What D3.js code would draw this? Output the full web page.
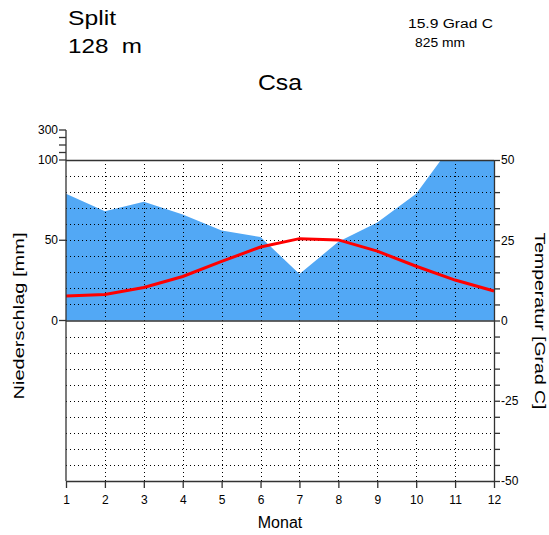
<!DOCTYPE html>
<html><head><meta charset="utf-8">
<script src="https://cdn.jsdelivr.net/npm/d3@7"></script>
<style>body{margin:0;background:#fff}svg{display:block}text{font-family:"Liberation Sans",Arial,sans-serif}</style>
</head><body>
<script>
const months = [1,2,3,4,5,6,7,8,9,10,11,12];
const precip = [79,68,74,66,56,52,29,49,61,79,112,100];
const temp = [7.6,8.1,10.3,13.7,18.4,22.9,25.5,25.1,21.6,16.9,12.6,9.2];
const tempTicks = [50,45,40,35,30,25,20,15,10,5,0,-5,-10,-15,-20,-25,-30,-35,-40,-45,-50];
const tempLabels = [50,25,0,-25,-50];
const precipHighTicks = [300,250,200,150,100];
const precipLabels = [300,100,50,0];

const W=549,H=535;
const svg=d3.select("body").append("svg").attr("width",W).attr("height",H);
const x=d3.scaleLinear().domain([1,12]).range([66,494]);
const yT=d3.scaleLinear().domain([-50,50]).range([481,160]);
const yP=d3.scaleLinear().domain([0,100]).range([yT(0),yT(50)]);
const yPhigh=d3.scaleLinear().domain([100,300]).range([160,130]);
const yPleft=v=>v>100?yPhigh(v):yP(v);

svg.append("clipPath").attr("id","c").append("rect").attr("x",66).attr("y",160).attr("width",428).attr("height",321);

// precipitation area
svg.append("path").datum(months.map((m,i)=>[m,precip[i]]))
 .attr("clip-path","url(#c)")
 .attr("fill","#52a8f5")
 .attr("d",d3.area().x(d=>x(d[0])).y0(yP(0)).y1(d=>yP(d[1])));

// grid
const g=svg.append("g").attr("stroke","#000").attr("stroke-width",1).attr("stroke-dasharray","1,3");
tempTicks.filter(t=>t!==50&&t!==-50&&t!==0).forEach(t=>{
 g.append("line").attr("x1",66).attr("x2",494).attr("y1",Math.round(yT(t))+0.5).attr("y2",Math.round(yT(t))+0.5);
});
months.slice(1,11).forEach(m=>{
 g.append("line").attr("x1",Math.round(x(m))+0.5).attr("x2",Math.round(x(m))+0.5).attr("y1",160).attr("y2",481);
});

// solid lines
const s=svg.append("g").attr("stroke","#333").attr("stroke-width",1.3);
s.append("line").attr("x1",66).attr("x2",494).attr("y1",160.5).attr("y2",160.5);
s.append("line").attr("x1",66).attr("x2",494).attr("y1",yT(0)+0.5).attr("y2",yT(0)+0.5);

// temperature line
svg.append("path").datum(months.map((m,i)=>[m,temp[i]]))
 .attr("fill","none").attr("stroke","#f00").attr("stroke-width",3)
 .attr("d",d3.line().x(d=>x(d[0])).y(d=>yT(d[1])));

// axes
const fs=12;
const bottom=svg.append("g").attr("transform","translate(0,481)")
 .call(d3.axisBottom(x).tickValues(months).tickFormat(d3.format("d")).tickSize(7).tickSizeOuter(0));
bottom.select(".domain").attr("stroke","#333").attr("stroke-width",1.3);
bottom.selectAll(".tick line").attr("stroke","#333").attr("stroke-width",1.3);
bottom.selectAll("text").attr("font-size",fs).attr("font-family","Liberation Sans, Arial").attr("fill","#000").attr("dy","1.05em");

const right=svg.append("g").attr("transform","translate(494,0)")
 .call(d3.axisRight(yT).tickValues(tempTicks).tickFormat(d=>tempLabels.includes(d)?d:"").tickSize(6).tickSizeOuter(0));
right.select(".domain").attr("stroke","#333").attr("stroke-width",1.3);
right.selectAll(".tick line").attr("stroke","#333").attr("stroke-width",1.3);
right.selectAll("text").attr("font-size",fs).attr("font-family","Liberation Sans, Arial").attr("fill","#000").attr("x",7);

// left axis (precipitation, two-part scale)
const L=svg.append("g");
L.append("line").attr("x1",66).attr("x2",66).attr("y1",130).attr("y2",481).attr("stroke","#333").attr("stroke-width",1.3);
const lowTicks=[50,0];
precipHighTicks.forEach(v=>{
 L.append("line").attr("x1",59).attr("x2",66).attr("y1",yPhigh(v)).attr("y2",yPhigh(v)).attr("stroke","#333").attr("stroke-width",1.3);
});
lowTicks.forEach(v=>{
 L.append("line").attr("x1",59).attr("x2",66).attr("y1",yP(v)).attr("y2",yP(v)).attr("stroke","#333").attr("stroke-width",1.3);
});
precipLabels.forEach(v=>{
 L.append("text").attr("x",58).attr("y",yPleft(v)).attr("dy","0.35em").attr("text-anchor","end").attr("font-size",fs).text(v);
});

// titles
const stretch=(sel,len)=>sel.attr("textLength",len).attr("lengthAdjust","spacingAndGlyphs");
stretch(svg.append("text").attr("x",68).attr("y",25).attr("font-size",21).text("Split"),48);
stretch(svg.append("text").attr("x",68).attr("y",53).attr("font-size",21).attr("xml:space","preserve").text("128  m"),74);
stretch(svg.append("text").attr("x",408).attr("y",28).attr("font-size",12.5).text("15.9 Grad C"),85);
stretch(svg.append("text").attr("x",415).attr("y",47).attr("font-size",12.5).text("825 mm"),50);
stretch(svg.append("text").attr("x",258).attr("y",90).attr("font-size",22).text("Csa"),44);
svg.append("text").attr("x",280).attr("y",528).attr("text-anchor","middle").attr("font-size",16).text("Monat");
stretch(svg.append("text").attr("transform","translate(24,316) rotate(-90)").attr("text-anchor","middle").attr("font-size",14).text("Niederschlag [mm]"),167);
stretch(svg.append("text").attr("transform","translate(535,321) rotate(90)").attr("text-anchor","middle").attr("font-size",15).text("Temperatur [Grad C]"),177);
</script>
</body></html>
